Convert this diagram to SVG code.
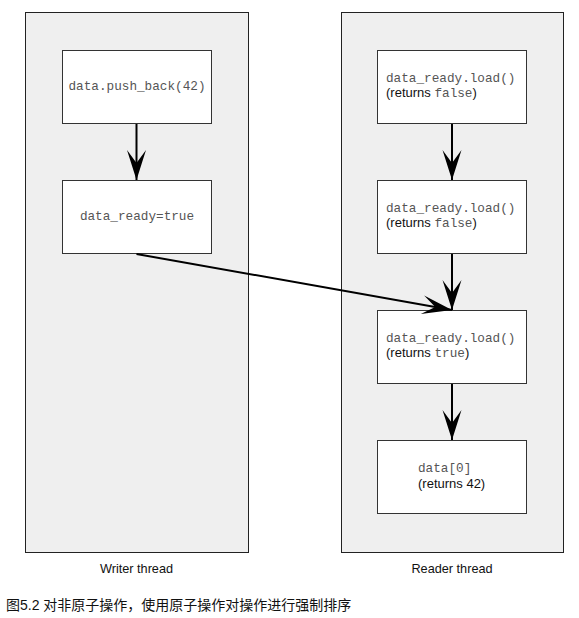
<svg xmlns="http://www.w3.org/2000/svg" width="579" height="618" viewBox="0 0 579 618">
<style>
.panel{fill:#efefef;stroke:#222;stroke-width:1}
.node{fill:#fff;stroke:#333;stroke-width:1}
.mono{font-family:"Liberation Mono","DejaVu Sans Mono",monospace;font-size:12.7px;fill:#555}
.sans{font-family:"Liberation Sans",Arial,sans-serif;font-size:13px;fill:#111}
.lbl{font-family:"Liberation Sans",Arial,sans-serif;font-size:12.7px;fill:#111;text-anchor:middle}
.cap{font-family:"Liberation Sans","Noto Sans CJK SC",sans-serif;font-size:14px;fill:#111}
.conn{fill:none;stroke:#000;stroke-width:2}
</style>
<defs>
<marker id="arr" viewBox="-31 -10 32 20" refX="0" refY="0" markerWidth="32" markerHeight="20" markerUnits="userSpaceOnUse" orient="auto">
<path d="M0,0 L-30,-9.5 L-17,0 L-30,9.5 Z" fill="#000"/>
</marker>
</defs>
<g id="writer-panel">
<rect class="panel" x="25.5" y="12.5" width="223" height="540"/>
<text class="lbl" x="136.5" y="573">Writer thread</text>
</g>
<g id="reader-panel">
<rect class="panel" x="341.5" y="12.5" width="222" height="540"/>
<text class="lbl" x="452" y="573">Reader thread</text>
</g>
<g id="w1">
<rect class="node" x="62.5" y="50.5" width="149" height="73"/>
<text class="mono" x="137" y="90" text-anchor="middle">data.push_back(42)</text>
</g>
<g id="w2">
<rect class="node" x="62.5" y="180.5" width="149" height="73"/>
<text class="mono" x="137" y="220" text-anchor="middle">data_ready=true</text>
</g>
<g id="r1">
<rect class="node" x="377.5" y="50.5" width="149" height="73"/>
<text class="mono" x="386" y="82">data_ready.load()</text>
<text class="sans" x="386" y="97">(returns <tspan class="mono">false</tspan>)</text>
</g>
<g id="r2">
<rect class="node" x="377.5" y="180.5" width="149" height="73"/>
<text class="mono" x="386" y="212">data_ready.load()</text>
<text class="sans" x="386" y="227">(returns <tspan class="mono">false</tspan>)</text>
</g>
<g id="r3">
<rect class="node" x="377.5" y="310.5" width="149" height="73"/>
<text class="mono" x="386" y="342">data_ready.load()</text>
<text class="sans" x="386" y="357">(returns <tspan class="mono">true</tspan>)</text>
</g>
<g id="r4">
<rect class="node" x="377.5" y="440.5" width="149" height="73"/>
<text class="mono" x="418" y="472">data[0]</text>
<text class="sans" x="418" y="488">(returns 42)</text>
</g>
<g id="connectors">
<line class="conn" x1="136.5" y1="124" x2="136.5" y2="180" marker-end="url(#arr)"/>
<line class="conn" x1="452" y1="124" x2="452" y2="180" marker-end="url(#arr)"/>
<line class="conn" x1="452" y1="254" x2="452" y2="310" marker-end="url(#arr)"/>
<line class="conn" x1="452" y1="384" x2="452" y2="440" marker-end="url(#arr)"/>
<line class="conn" x1="136.5" y1="254" x2="452" y2="310" marker-end="url(#arr)"/>
</g>
<text class="cap" x="6" y="610">图5.2 对非原子操作，使用原子操作对操作进行强制排序</text>
</svg>
